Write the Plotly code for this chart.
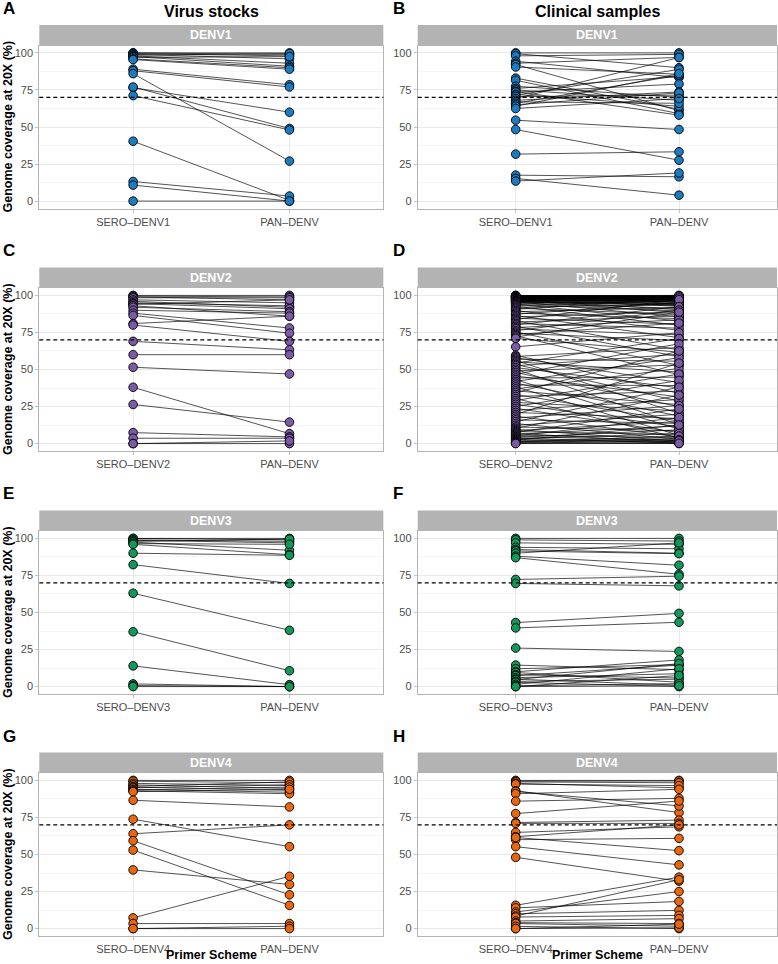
import plotly.graph_objects as go

W, H = 778, 964

# ---------------- data ----------------
serotypes = ["DENV1", "DENV2", "DENV3", "DENV4"]
scheme_sero = ["SERO–DENV1", "SERO–DENV2", "SERO–DENV3", "SERO–DENV4"]
scheme_pan = "PAN–DENV"
column_titles = ["Virus stocks", "Clinical samples"]
panel_letters = ["A", "B", "C", "D", "E", "F", "G", "H"]
colors = ["#1B7CC0", "#7B5AA6", "#12985A", "#E8670F"]
y_ticks = [0, 25, 50, 75, 100]
y_minor = [12.5, 37.5, 62.5, 87.5]
threshold = 70

# Panel A: DENV1 virus stocks
A_sero = [100, 100, 99.5, 99, 98.5, 98, 97.5, 97, 96, 95.5, 89, 88, 86, 76.5, 77, 71.2, 40.4, 13.2, 10.8, 0]
A_pan = [100, 99, 98, 96, 99.5, 93, 91, 97.5, 90, 89, 78.5, 77, 27, 60, 49, 48, 0.5, 3.4, 0, 0]

# Panel B: DENV1 clinical samples
B_sero = [100, 99.5, 98, 94.4, 93, 92.2, 90.5, 83, 81.5, 77.5, 76, 75, 74, 73.5, 72, 71.5, 70.5, 69.2, 68, 67,
          66, 65, 64, 62.5, 54.6, 48.3, 31.7, 17.5, 15.3, 13.5]
B_pan = [100, 90, 99, 83.4, 97, 61, 85.6, 62, 59, 70, 84, 68, 58, 79, 64, 88.9, 71.5, 96.9, 73.7, 66,
         85, 73, 86, 69.2, 48.3, 27.6, 33.3, 16.4, 4, 19]

# Panel C: DENV2 virus stocks
C_sero = [100, 99.5, 99, 98.4, 97, 96, 95, 94.5, 94, 93, 92, 90, 88, 86.5, 81, 80, 69, 60, 51.5, 38, 26.4, 7.4, 3.6, 0, 0]
C_pan = [100, 99, 97, 98.4, 95, 92, 93, 91, 97, 86, 89, 88, 78, 74.5, 86, 69, 63.3, 60, 47, 6.7, 14.5, 4.5, 3.6, 0, 1.8]

# Panel D: DENV2 clinical samples
D_sero = [100, 99.9, 99.8, 99.7, 99.6, 99.5, 99.4, 99.3, 99.2, 99.1, 99, 98.9, 98.8, 98.7, 98.6, 98.5, 98.4, 98.3,
          98.2, 98.1, 98, 97.9, 97.8, 97.6, 97.5, 97.3, 97.1, 97, 96.9, 96.8, 96.6, 96.5, 96.3, 96.2, 96, 95.9,
          95.7, 95.5, 95.4, 95, 94.6, 94.2, 93.8, 93.3, 92.7, 92, 91.4, 90.6, 89.8, 89, 88.1, 87.3, 86.4, 85.5,
          84.6, 83.8, 82.9, 82, 81, 80.1, 79.2, 78.3, 77.4, 76.2, 75.3, 74.5, 73.6, 72.8, 71.9, 71, 65.3,
          59.6, 58.8, 57.9, 57, 56.1, 55.2, 54.3, 53.4, 52.5, 51.3, 50.2, 49.1, 48, 46.8, 45.6, 44.3, 43.1, 42,
          40.8, 39.5, 38.2, 36.9, 35.6, 34.4, 33.1, 31.8, 30.4, 29.1, 27.8, 26.5, 25.1, 23.8, 22.4, 21, 19.7,
          18.5, 17.2, 16, 14.8, 13.5, 12.3, 11.2, 10.3, 9.5, 8.8, 8.1, 7.5, 6.9, 6.3, 5.7, 5.2, 4.7, 4.2, 3.7,
          3.2, 2.7, 2.3, 1.9, 1.5, 1.1, 0.8, 0.5, 0.2, 0]
D_pan = [99.5, 99.8, 100, 99.6, 98.8, 99.2, 99.1, 97.5, 98.9, 98.4, 96.8, 98.5, 99.7, 99.3, 95.4, 97.9, 97.7, 94.1,
         98.1, 99, 96.2, 96.9, 92.6, 97.4, 98.6, 90.3, 98.7, 95.8, 95.3, 88.4, 96.6, 97.2, 94.4, 93.5, 99.4, 97.8,
         85.6, 93.2, 94.7, 91.2, 97.6, 82.7, 89.5, 96.4, 79.8, 93.9, 87.1, 98.2, 76.4, 91.8, 84.3, 95.1, 71.5, 88.9,
         80.6, 97.1, 63.2, 86.2, 77.9, 92.4, 58.7, 83.5, 73.4, 90.1, 52.8, 69.6, 81.3, 46.5, 88.7, 61.7, 74.8,
         33.9, 64.8, 41.2, 55.6, 20.4, 48.3, 70.9, 28.7, 60.3, 37.6, 12.8, 53.1, 24.9, 67.4, 31.5, 44.8, 9.7, 57.9,
         18.6, 39.2, 5.6, 50.7, 26.3, 62.5, 15.2, 35.4, 3.8, 46.9, 22.1, 11.3, 42.6, 7.4, 29.8, 16.9, 54.3,
         4.5, 25.7, 13.6, 38.1, 2.9, 19.8, 8.6, 32.7, 1.7, 14.9, 6.2, 23.4, 0.9, 11.9, 4.1, 17.5, 2.2, 9.3, 0.4,
         6.8, 1.3, 12.5, 3.3, 0.6, 5.1, 2.6, 0, 1.9, 0.2]

# Panel E: DENV3 virus stocks
E_sero = [100, 100, 99, 98.7, 98, 97.5, 96.5, 96, 90, 82.3, 63, 37, 14, 1.8, 0.7, 0]
E_pan = [99, 100, 98, 97, 99.5, 92, 96, 89, 88.6, 69.6, 38, 10.7, 1.3, 0, 0, 0]

# Panel F: DENV3 clinical samples
F_sero = [100, 99, 97, 94, 92.5, 91.5, 90, 88, 87, 72.3, 69.6, 43.2, 39.6, 26, 14.5, 12, 10, 9.5, 8, 7.4,
          6, 5, 4.7, 3.5, 2.9, 1.5, 0.5, 0, 0]
F_pan = [100, 98.2, 96, 93, 90, 89.7, 97, 81.9, 75.8, 74.5, 68, 49.4, 43.4, 23.7, 11.4, 14.8, 18, 2.9, 5.8, 14.5,
         8.7, 1, 15.5, 5, 0, 12, 2, 7.5, 0.5]

# Panel G: DENV4 virus stocks
G_sero = [100, 99.5, 98, 97, 96, 95.5, 95, 94, 93.5, 93, 92.4, 86.6, 73.8, 64, 59.3, 53, 39.6, 7.2, 3.4, 0, 0]
G_pan = [100, 98.4, 96.6, 94.6, 99, 93.3, 97, 92, 95.5, 91, 94, 82.1, 55.3, 70, 22.8, 15.7, 29.8, 35.3, 3.4, 1.6, 0]

# Panel H: DENV4 clinical samples
H_sero = [100, 99.5, 99, 98, 97.5, 93, 92.5, 91, 86, 77.6, 71.6, 71, 64.9, 62, 60, 61.5, 55.3, 48.1, 15.7, 14,
          11.2, 10, 8.5, 7.8, 5.1, 4, 3.4, 1.5, 0, 0]
H_pan = [100, 99.6, 98.4, 95, 96.5, 78.3, 82.8, 94, 87.9, 86.1, 73.2, 71, 68.7, 70, 60.9, 52.6, 43, 32, 34.7, 18.3,
         25, 12.3, 33, 8.9, 6.7, 3.4, 1.6, 0, 0.5, 3]

panel_sero = [A_sero, B_sero, C_sero, D_sero, E_sero, F_sero, G_sero, H_sero]
panel_pan = [A_pan, B_pan, C_pan, D_pan, E_pan, F_pan, G_pan, H_pan]

# ---------------- layout geometry (pixels) ----------------
col_x = [(39.3, 383.3), (417.7, 777.0)]
row_top = [45.5, 288.0, 531.0, 773.0]
plot_h = 163.0
strip_h = 20.5


def fx(px):
    return px / W


def fy(py):
    return 1 - py / H


FONT = "Liberation Sans, Arial, sans-serif"
TICK = "#4D4D4D"
fig = go.Figure()
layout = dict(
    width=W, height=H, margin=dict(l=0, r=0, t=0, b=0),
    paper_bgcolor="white", plot_bgcolor="white", showlegend=False,
    font=dict(family=FONT, color=TICK),
)
shapes = []
annotations = []

for i in range(8):
    row, col = divmod(i, 2)
    k = i + 1
    xa = "xaxis" if k == 1 else f"xaxis{k}"
    ya = "yaxis" if k == 1 else f"yaxis{k}"
    xr = "x" if k == 1 else f"x{k}"
    yr = "y" if k == 1 else f"y{k}"
    cats = [scheme_sero[row], scheme_pan]
    sero = panel_sero[i]
    pan = panel_pan[i]

    lx, ly = [], []
    for s, p in zip(sero, pan):
        lx += [cats[0], cats[1], None]
        ly += [s, p, None]
    fig.add_trace(go.Scatter(x=lx, y=ly, mode="lines", xaxis=xr, yaxis=yr,
                             line=dict(color="rgba(0,0,0,0.9)", width=0.75), hoverinfo="skip"))
    fig.add_trace(go.Scatter(x=[cats[0]] * len(sero) + [cats[1]] * len(pan), y=sero + pan,
                             mode="markers", xaxis=xr, yaxis=yr,
                             marker=dict(size=8.6, color=colors[row], line=dict(color="black", width=0.9))))

    x0, x1 = col_x[col]
    top = row_top[row]
    bot = top + plot_h
    layout[xa] = dict(domain=[fx(x0), fx(x1)], anchor=yr, type="category", color=TICK,
                      categoryorder="array", categoryarray=cats, range=[-0.6, 1.6],
                      showgrid=True, gridcolor="#E3E3E3", gridwidth=0.8, zeroline=False,
                      showline=True, mirror=True, linecolor="#B3B3B3", linewidth=1,
                      ticks="outside", ticklen=3, tickcolor="#B3B3B3", tickwidth=0.8,
                      tickfont=dict(size=11, color=TICK, family=FONT), fixedrange=True)
    layout[ya] = dict(domain=[fy(bot), fy(top)], anchor=xr, range=[-5, 105], color=TICK,
                      tickvals=y_ticks, showgrid=True, gridcolor="#E3E3E3", gridwidth=0.8,
                      zeroline=False, showline=True, mirror=True, linecolor="#B3B3B3", linewidth=1,
                      ticks="outside", ticklen=3, tickcolor="#B3B3B3", tickwidth=0.8,
                      tickfont=dict(size=11, color=TICK, family=FONT),
                      minor=dict(tickvals=y_minor, showgrid=True, gridcolor="#EBEBEB", gridwidth=0.5, ticks=""),
                      fixedrange=True)

    # threshold dashed line
    shapes.append(dict(type="line", xref=f"{xr} domain", yref=yr, x0=0, x1=1, y0=threshold, y1=threshold,
                       line=dict(color="black", width=1.2, dash="4px,3px"), layer="above"))
    # strip
    shapes.append(dict(type="rect", xref="paper", yref="paper", x0=fx(x0), x1=fx(x1),
                       y0=fy(top), y1=fy(top - strip_h), fillcolor="#B3B3B3", line=dict(width=0)))
    annotations.append(dict(text=f"<b>{serotypes[row]}</b>", xref="paper", yref="paper",
                            x=fx((x0 + x1) / 2), y=fy(top - strip_h / 2), showarrow=False,
                            font=dict(size=12.5, color="white", family=FONT), xanchor="center", yanchor="middle"))
    # panel letter
    letter_x = 1 if col == 0 else 391
    annotations.append(dict(text=f"<b>{panel_letters[i]}</b>", xref="paper", yref="paper",
                            x=fx(letter_x), y=fy(top - 37), showarrow=False, xanchor="left", yanchor="middle",
                            font=dict(size=17, color="black", family=FONT)))
    # y-axis title
    if col == 0:
        annotations.append(dict(text="<b>Genome coverage at 20X (%)</b>", xref="paper", yref="paper",
                                x=fx(7.5), y=fy((top + bot) / 2), showarrow=False, textangle=-90,
                                xanchor="center", yanchor="middle",
                                font=dict(size=12.5, color="black", family=FONT)))
    # x-axis title for bottom row
    if row == 3:
        annotations.append(dict(text="<b>Primer Scheme</b>", xref="paper", yref="paper",
                                x=fx((x0 + x1) / 2), y=fy(955), showarrow=False,
                                xanchor="center", yanchor="middle",
                                font=dict(size=12.5, color="black", family=FONT)))

# column titles
for c in range(2):
    x0, x1 = col_x[c]
    annotations.append(dict(text=f"<b>{column_titles[c]}</b>", xref="paper", yref="paper",
                            x=fx((x0 + x1) / 2), y=fy(11.5), showarrow=False,
                            xanchor="center", yanchor="middle",
                            font=dict(size=16, color="black", family=FONT)))

layout["shapes"] = shapes
layout["annotations"] = annotations
fig.update_layout(**layout)
fig.write_html("out.html", config={"displayModeBar": False, "staticPlot": True},
               post_script="document.body.style.margin='0';document.body.style.padding='0';"
                           "document.documentElement.style.overflow='hidden';")
